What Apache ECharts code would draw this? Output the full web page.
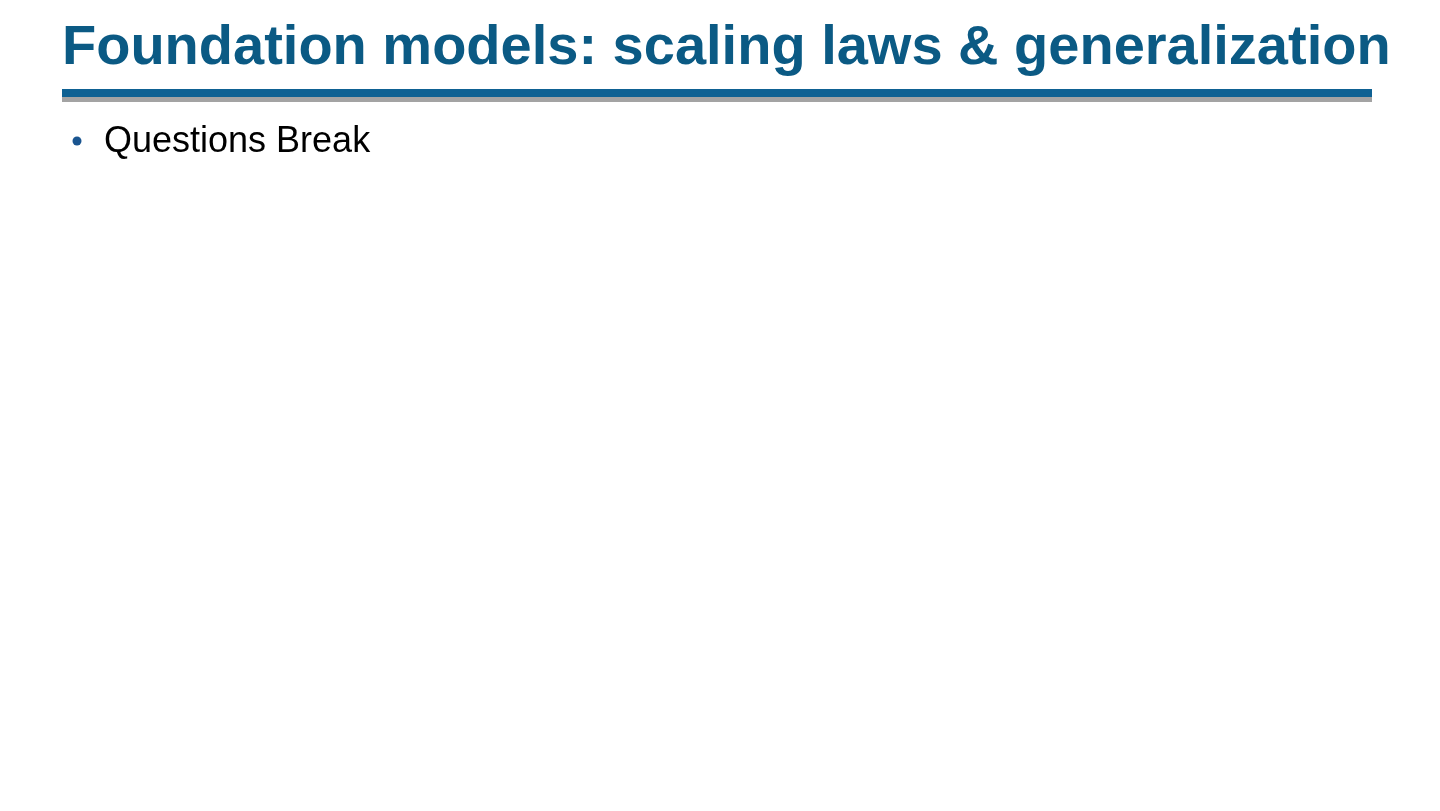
<!DOCTYPE html>
<html>
<head>
<meta charset="utf-8">
<script src="https://cdn.jsdelivr.net/npm/echarts@6/dist/echarts.min.js"></script>
<style>
  html, body { margin: 0; padding: 0; background: #fff; }
  #slide { width: 1440px; height: 811px; }
</style>
</head>
<body>
<div id="slide"></div>
<script>
// slide texts
const slideTitle = 'Foundation models: scaling laws & generalization';
const bulletItems = ['Questions Break'];

const chart = echarts.init(document.getElementById('slide'));

// bullet list -> graphic elements
const bulletGraphics = [];
bulletItems.forEach((txt, i) => {
  bulletGraphics.push({
    type: 'circle',
    shape: { cx: 77, cy: 141 + i * 52, r: 4.5 },
    style: { fill: '#1a5590' }
  });
  bulletGraphics.push({
    type: 'text',
    x: 104,
    y: 142 + i * 52,
    style: {
      text: txt,
      font: '36px "Liberation Sans", Arial, sans-serif',
      fill: '#000',
      textVerticalAlign: 'middle'
    }
  });
});

chart.setOption({
  backgroundColor: '#ffffff',
  title: {
    text: slideTitle,
    left: 57,
    top: 16,
    textStyle: {
      fontFamily: '"Liberation Sans", Arial, sans-serif',
      fontWeight: 'bold',
      fontSize: 56,
      color: '#0b5a84'
    }
  },
  graphic: [
    // blue rule with gray shadow under it
    { type: 'rect', shape: { x: 62, y: 96, width: 1310, height: 6 }, style: { fill: '#a3a3a3' } },
    { type: 'rect', shape: { x: 62, y: 89, width: 1310, height: 8 }, style: { fill: '#0e6193' } }
  ].concat(bulletGraphics)
});
</script>
</body>
</html>
